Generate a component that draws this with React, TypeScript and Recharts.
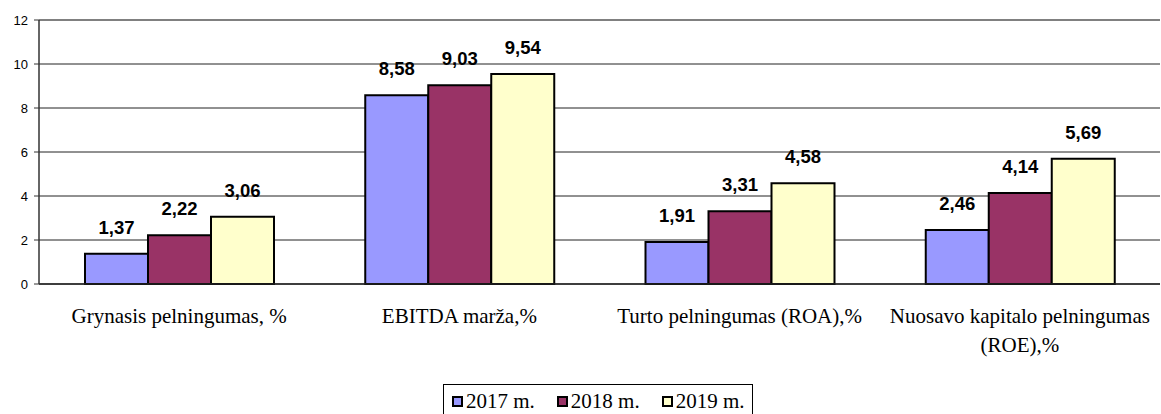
import React from 'react';
import { BarChart, Bar, XAxis, YAxis, CartesianGrid, LabelList, Legend, ReferenceLine } from 'recharts';

const categories = [
  'Grynasis pelningumas, %',
  'EBITDA marža,%',
  'Turto pelningumas (ROA),%',
  'Nuosavo kapitalo pelningumas (ROE),%',
];
const series2017 = [1.37, 8.58, 1.91, 2.46];
const series2018 = [2.22, 9.03, 3.31, 4.14];
const series2019 = [3.06, 9.54, 4.58, 5.69];
const seriesNames = ['2017 m.', '2018 m.', '2019 m.'];
const seriesColors = ['#9999FF', '#993366', '#FFFFCC'];
const yTicks = [0, 2, 4, 6, 8, 10, 12];
const boundaryTicks = [0, 1, 2, 3, 4];

const data = categories.map((name, i) => ({
  name,
  y2017: series2017[i],
  y2018: series2018[i],
  y2019: series2019[i],
}));

const serif = '"Liberation Serif", "Times New Roman", serif';
const sans = '"Liberation Sans", Arial, sans-serif';

const fmt = (v: any) => Number(v).toFixed(2).replace('.', ',');

let ctx: CanvasRenderingContext2D | null = null;
const measure = (s: string, font: string) => {
  if (!ctx) ctx = document.createElement('canvas').getContext('2d');
  if (!ctx) return s.length * 9;
  ctx.font = font;
  return ctx.measureText(s).width;
};

const wrap = (text: string, maxW: number, font: string) => {
  const words = text.split(' ');
  const lines: string[] = [];
  let cur = '';
  words.forEach((w) => {
    const t = cur ? cur + ' ' + w : w;
    if (cur && measure(t, font) > maxW) {
      lines.push(cur);
      cur = w;
    } else cur = t;
  });
  if (cur) lines.push(cur);
  return lines;
};

const CatTick = (props: any) => {
  const { x, y, payload } = props;
  const lines = wrap(String(payload.value), 272, `21px ${serif}`);
  return (
    <text x={x} y={y} textAnchor="middle" fill="#000" style={{ fontFamily: serif, fontSize: 21 }}>
      {lines.map((l, i) => (
        <tspan key={i} x={x} dy={i === 0 ? 15 : 29}>
          {l}
        </tspan>
      ))}
    </text>
  );
};

const LegendContent = () => (
  <div
    style={{
      boxSizing: 'border-box',
      width: '100%',
      height: 30,
      borderTop: '1px solid #000',
      borderLeft: '1px solid #000',
      borderRight: '1px solid #000',
      display: 'flex',
      alignItems: 'center',
      paddingLeft: 8,
      paddingTop: 4,
      fontFamily: serif,
      fontSize: 21,
      color: '#000',
      whiteSpace: 'nowrap',
    }}
  >
    {seriesNames.map((n, i) => (
      <span key={n} style={{ display: 'inline-flex', alignItems: 'center', marginRight: i < 2 ? 22 : 0 }}>
        <span
          style={{
            display: 'inline-block',
            boxSizing: 'border-box',
            width: 11,
            height: 11,
            background: seriesColors[i],
            border: '2px solid #000',
            marginRight: 3,
          }}
        />
        <span>{n}</span>
      </span>
    ))}
  </div>
);

export default function App() {
  return (
    <div>
      <style>{`html,body{margin:0;padding:0;overflow:hidden;background:#fff}`}</style>
      <BarChart
        width={1161}
        height={414}
        data={data}
        margin={{ top: 20, right: 1, left: 0, bottom: 0 }}
        barGap={0}
        barCategoryGap={46}
      >
        <CartesianGrid vertical={false} horizontal stroke="#222" strokeWidth={1} yAxisId="y" xAxisId="cat" />
        <XAxis
          xAxisId="b"
          type="number"
          domain={[0, 4]}
          ticks={boundaryTicks}
          tick={false}
          tickSize={6}
          height={6}
          axisLine={{ stroke: '#222', strokeWidth: 1.5 }}
          tickLine={{ stroke: '#222', strokeWidth: 1 }}
        />
        <XAxis
          xAxisId="cat"
          dataKey="name"
          height={94}
          axisLine={false}
          tickLine={false}
          tickSize={0}
          tickMargin={18}
          interval={0}
          tick={<CatTick />}
        />
        <YAxis
          yAxisId="y"
          width={39}
          domain={[0, 12]}
          ticks={yTicks}
          interval={0}
          tickSize={5}
          tickMargin={6}
          axisLine={{ stroke: '#333', strokeWidth: 1.5 }}
          tickLine={{ stroke: '#333', strokeWidth: 1 }}
          tick={{ fontFamily: sans, fontSize: 13, fill: '#000' }}
        />
        <ReferenceLine yAxisId="y" xAxisId="cat" y={12} stroke="#808080" strokeWidth={2} />
        <ReferenceLine yAxisId="y" xAxisId="b" x={4} stroke="#808080" strokeWidth={2} />
        <Legend
          verticalAlign="bottom"
          wrapperStyle={{ left: 443, width: 310 }}
          content={<LegendContent />}
        />
        {(['y2017', 'y2018', 'y2019'] as const).map((k, i) => (
          <Bar
            key={k}
            dataKey={k}
            name={seriesNames[i]}
            xAxisId="cat"
            yAxisId="y"
            fill={seriesColors[i]}
            stroke="#000"
            strokeWidth={2}
            isAnimationActive={false}
          >
            <LabelList
              dataKey={k}
              position="top"
              offset={20}
              formatter={fmt}
              style={{ fontFamily: sans, fontSize: 18.5, fontWeight: 'bold', fill: '#000' }}
            />
          </Bar>
        ))}
      </BarChart>
    </div>
  );
}
